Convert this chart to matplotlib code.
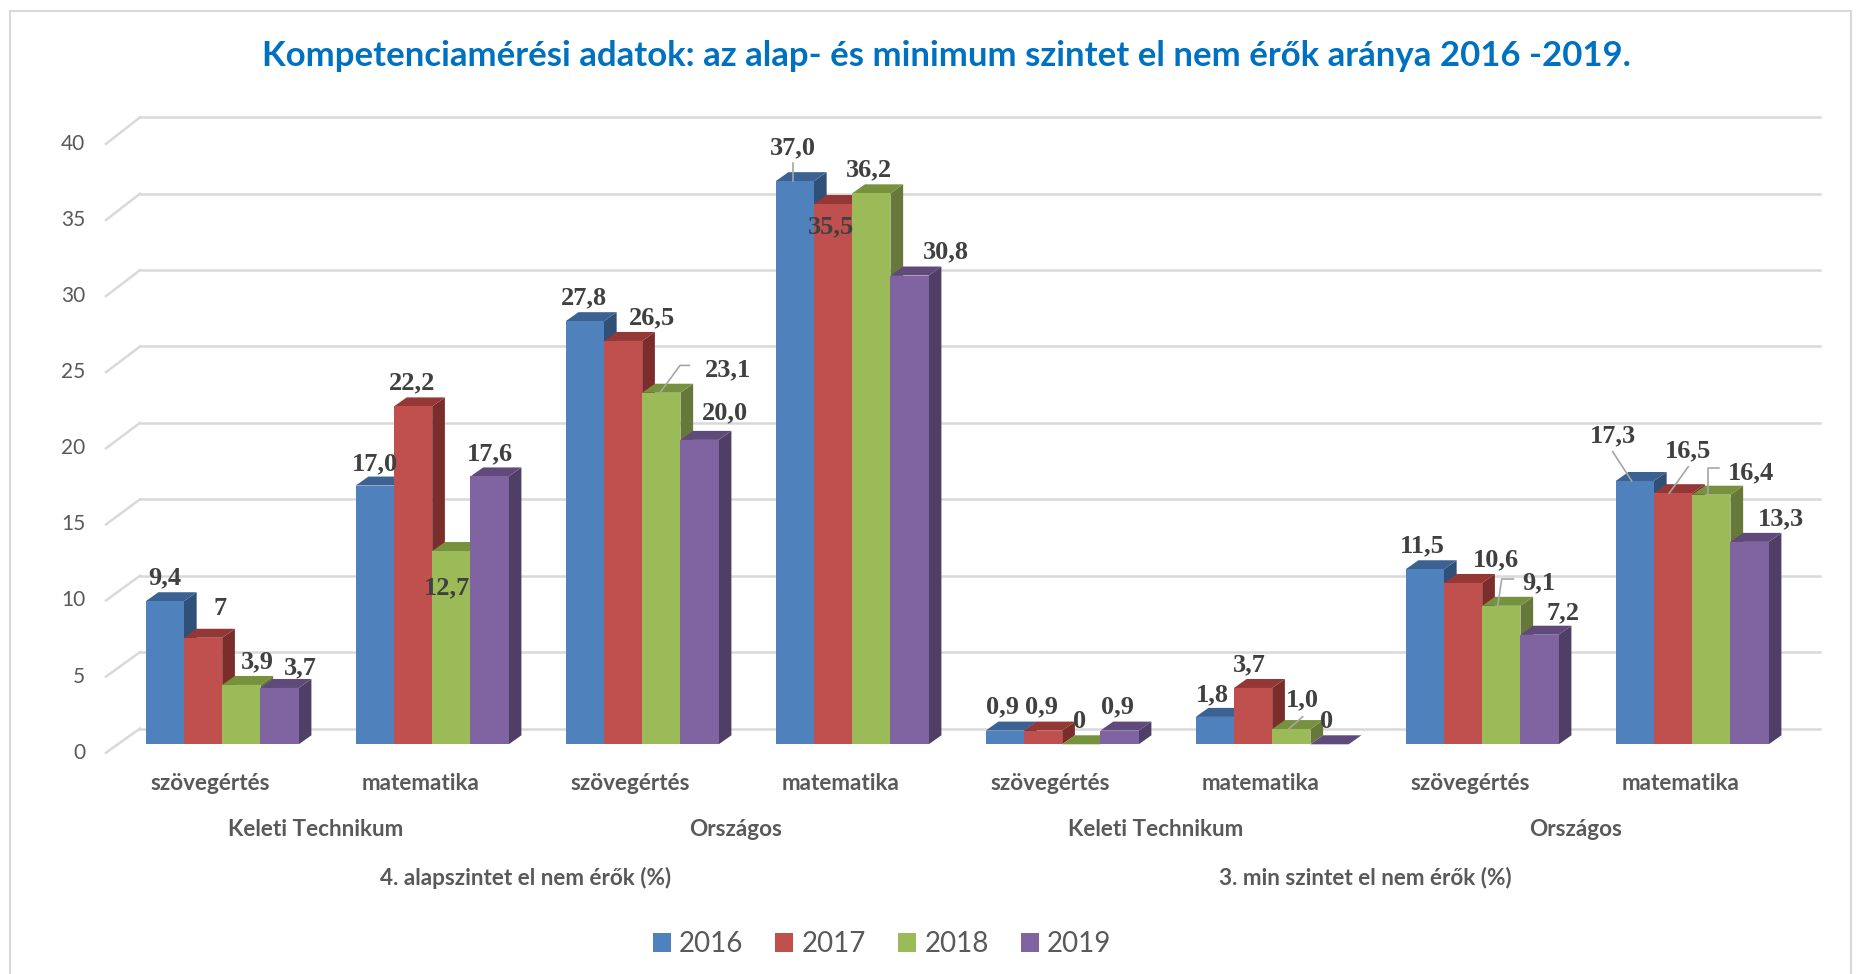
import matplotlib
matplotlib.use("Agg")
import matplotlib.pyplot as plt
from matplotlib.patches import Polygon, Rectangle, Patch

# data
title = "Kompetenciamérési adatok: az alap- és minimum szintet el nem érők aránya 2016 -2019."
subjects = ["szövegértés", "matematika"] * 4
schools = ["Keleti Technikum", "Országos"] * 2
measures = ["4. alapszintet el nem érők (%)", "3. min szintet el nem érők (%)"]
years = ["2016", "2017", "2018", "2019"]

v2016 = [9.4, 17.0, 27.8, 37.0, 0.9, 1.8, 11.5, 17.3]
v2017 = [7, 22.2, 26.5, 35.5, 0.9, 3.7, 10.6, 16.5]
v2018 = [3.9, 12.7, 23.1, 36.2, 0, 1.0, 9.1, 16.4]
v2019 = [3.7, 17.6, 20.0, 30.8, 0.9, 0, 7.2, 13.3]

t2016 = ["9,4", "17,0", "27,8", "37,0", "0,9", "1,8", "11,5", "17,3"]
t2017 = ["7", "22,2", "26,5", "35,5", "0,9", "3,7", "10,6", "16,5"]
t2018 = ["3,9", "12,7", "23,1", "36,2", "0", "1,0", "9,1", "16,4"]
t2019 = ["3,7", "17,6", "20,0", "30,8", "0,9", "0", "7,2", "13,3"]

yticks = [0, 5, 10, 15, 20, 25, 30, 35, 40]

series = [v2016, v2017, v2018, v2019]
texts = [t2016, t2017, t2018, t2019]

# styling / layout (pixels)
front_c = ["#4F81BD", "#C0504D", "#9BBB59", "#8064A2"]
top_c = ["#3B6292", "#953735", "#76923C", "#604A7B"]
side_c = ["#2F5077", "#7B2D2B", "#66793A", "#4F3E66"]

W, H = 1860, 974
CX0, CXS = 222.2, 210.0      # px of category 0 centre, px per category
VY0, VYS = 744.3, 15.22      # px (from top) of value 0, px per unit
BAR_W = 38.25
DDX, DDY = 12.7, 9.0         # bar depth
BACK_DX, BACK_DY = 22.8, 15.8
FLOOR_DX, FLOOR_DY = -11.2, -8.4

# label offsets (px, y up) from front-top centre of each bar: [group][series]
lab_off = [
    [(0, 26), (17, 32), (16, 25), (21, 22)],
    [(0, 24), (-1, 26), (-4, -35), (0, 24.6)],
    [(-1, 25.5), (28.6, 25), (67, 25.6), (25.4, 29.2)],
    [(-2, 36), (-2, -21), (-2, 26.3), (36, 26)],
    [(-2, 26), (-2, 26), (-2, 25), (-2, 26)],
    [(-2.6, 24.7), (-3.6, 25.5), (11, 31.6), (-3, 25)],
    [(-2.6, 25.5), (32.4, 25.5), (37, 25), (23.7, 24)],
    [(-22.3, 47), (15.2, 44.5), (40, 24.2), (31.2, 25.2)],
]
leaders = {
    (3, 0): [(-1.5, 0.5), (-1.5, 18.5)],
    (2, 2): [(-1.3, 0), (18.7, 27.3), (28, 27.3)],
    (5, 2): [(-3, -0.2), (11.4, 12.4)],
    (6, 2): [(-3.6, -0.2), (0.4, 26.8), (12, 26.8)],
    (7, 0): [(-3.1, 0), (-22.1, 29.3)],
    (7, 1): [(-3.8, 0), (15.2, 26.5)],
    (7, 2): [(-3.6, 0), (-3.6, 26.4), (8, 26.4)],
}

SANS = "Lato"
GREY = "#595959"

def px(dx):
    return dx / CXS

def pv(dy):
    return dy / VYS

fig = plt.figure(figsize=(W / 100, H / 100), dpi=100)
ax = fig.add_axes([0, 0, 1, 1])
ax.set_xlim(-CX0 / CXS, (W - CX0) / CXS)
ax.set_ylim((VY0 - H) / VYS, VY0 / VYS)
ax.axis("off")

# outer frame
fig.add_artist(Rectangle((10 / W, -0.02), 1841 / W, 1.02 - 11 / H, transform=fig.transFigure,
                         fill=False, edgecolor="#D9D9D9", lw=1.5))

# grid: back wall lines + diagonal on the left
n = len(subjects)
x_left = -0.5
for t in yticks:
    yb = t * 15.28 / VYS + pv(BACK_DY)
    ax.plot([x_left + px(BACK_DX), n - 0.5 + px(BACK_DX)], [yb, yb], color="#D9D9D9", lw=1.8, zorder=1)
    ax.plot([x_left + px(FLOOR_DX), x_left + px(BACK_DX)], [t + pv(FLOOR_DY), yb],
            color="#D9D9D9", lw=1.8, zorder=1)
    ax.text(x_left + px(-32), t + pv(FLOOR_DY), str(t), ha="right", va="center",
            fontsize=15, color=GREY, family=SANS)

# 3D bars
bw = px(BAR_W)
for j, vals in enumerate(series):
    xs = [i - 2 * bw + j * bw for i in range(n)]
    for xl, v in zip(xs, vals):
        side = [(xl + bw, 0), (xl + bw + px(DDX), pv(DDY)), (xl + bw + px(DDX), v + pv(DDY)), (xl + bw, v)]
        top = [(xl, v), (xl + bw, v), (xl + bw + px(DDX), v + pv(DDY)), (xl + px(DDX), v + pv(DDY))]
        ax.add_patch(Polygon(side, closed=True, facecolor=side_c[j], edgecolor="none", zorder=3 + j))
        ax.add_patch(Polygon(top, closed=True, facecolor=top_c[j], edgecolor="none", zorder=3 + j))
    ax.bar([x + bw / 2 for x in xs], vals, width=bw, color=front_c[j], linewidth=0, zorder=3 + j)

# value labels
for j, vals in enumerate(series):
    for i, v in enumerate(vals):
        xc = i - 2 * bw + (j + 0.5) * bw
        dx, dy = lab_off[i][j]
        ax.text(xc + px(dx), v + pv(dy - 8.8), texts[j][i], ha="center", va="baseline",
                fontsize=19, fontweight="bold", family="Liberation Serif", color="#404040", zorder=10)
        if (i, j) in leaders:
            pts = leaders[(i, j)]
            ax.plot([xc + px(a) for a, b in pts], [v + pv(b) for a, b in pts],
                    color="#A6A6A6", lw=1.2, zorder=9)

# category axis labels (three levels)
for i, s in enumerate(subjects):
    ax.text(i + px(-11.7), pv(VY0 - 784), s, ha="center", va="center",
            fontsize=16.2, fontweight="bold", color=GREY, family=SANS)
for k, s in enumerate(schools):
    ax.text(2 * k + 0.5 + px(-11.7), pv(VY0 - 829.3), s, ha="center", va="center",
            fontsize=16.2, fontweight="bold", color=GREY, family=SANS)
for k, s in enumerate(measures):
    ax.text(4 * k + 1.5 + px(-11.7), pv(VY0 - 877.7), s, ha="center", va="center",
            fontsize=16.2, fontweight="bold", color=GREY, family=SANS)

fig.text(946.6 / W, 1 - 56 / H, title, ha="center", va="center", fontsize=25,
         fontweight="bold", color="#0070C0", family=SANS)

handles = [Patch(facecolor=c, edgecolor="none") for c in front_c]
leg = fig.legend(handles, years, loc="center", bbox_to_anchor=(882 / W, 1 - 944 / H), ncol=4,
                 frameon=False, handlelength=0.65, handleheight=0.65,
                 handletextpad=0.3, columnspacing=1.15, prop={"family": SANS, "size": 20})
for t in leg.get_texts():
    t.set_color(GREY)

fig.savefig("out.png", dpi=100)
